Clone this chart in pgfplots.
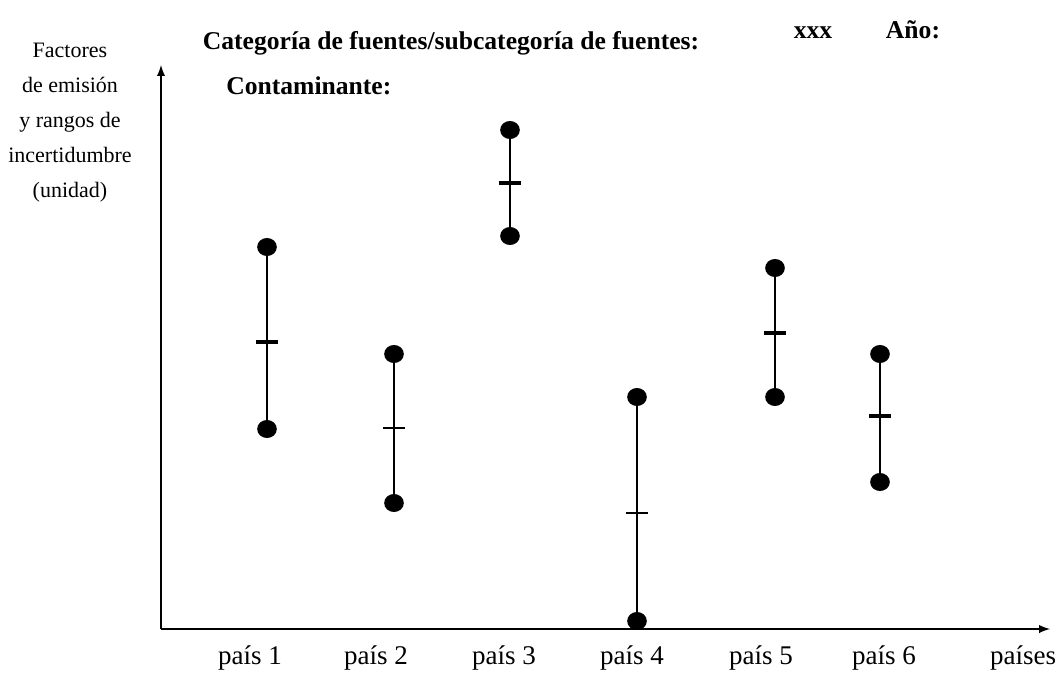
\documentclass[border=0pt]{standalone}
\usepackage{fontspec}
\setmainfont{Liberation Serif}
\usepackage{pgfplots}
\pgfplotsset{compat=1.18}
\begin{document}
\begin{tikzpicture}
\begin{axis}[
  x=0.5pt, y=0.5pt,
  xmin=0, xmax=889, ymin=0, ymax=564,
  axis lines=left,
  axis line style={line width=0.9pt, -latex},
  clip=false,
  ytick=\empty,
  xtick={89,215,343,471,600,723,862},
  xticklabels={\raisebox{-3pt}{país 1},país 2,país 3,país 4,país 5,país 6,países},
  major tick length=0pt,
  xticklabel style={font=\fontsize{13.5}{15}\selectfont, yshift=-5pt},
]
\addplot[black, line width=1pt, mark=*, mark size=4pt, mark options={xscale=1.1}] coordinates {(106,200) (106,382)};
\addplot[black, line width=1pt, mark=*, mark size=4pt, mark options={xscale=1.1}] coordinates {(233,126) (233,275)};
\addplot[black, line width=1pt, mark=*, mark size=4pt, mark options={xscale=1.1}] coordinates {(349,393) (349,499)};
\addplot[black, line width=1pt, mark=*, mark size=4pt, mark options={xscale=1.1}] coordinates {(476,8) (476,232)};
\addplot[black, line width=1pt, mark=*, mark size=4pt, mark options={xscale=1.1}] coordinates {(614,232) (614,361)};
\addplot[black, line width=1pt, mark=*, mark size=4pt, mark options={xscale=1.1}] coordinates {(719,147) (719,275)};
\addplot[black, only marks, mark=-, mark size=5.5pt, mark options={line width=2pt}] coordinates {(106,287) (349,446) (614,296) (719,213)};
\addplot[black, only marks, mark=-, mark size=5.5pt, mark options={line width=1.3pt}] coordinates {(233,201) (476,116)};
\node[font=\fontsize{12.8}{14}\selectfont\bfseries, anchor=base] at (axis cs:290,579) {Categoría de fuentes/subcategoría de fuentes:};
\node[font=\fontsize{12.8}{14}\selectfont\bfseries, anchor=base] at (axis cs:652,590) {xxx};
\node[font=\fontsize{12.8}{14}\selectfont\bfseries, anchor=base] at (axis cs:752,590) {Año:};
\node[font=\fontsize{12.8}{14}\selectfont\bfseries, anchor=base west, inner sep=0pt] at (axis cs:65,534) {Contaminante:};
\node[font=\fontsize{11}{17.5}\selectfont, align=center] at (axis cs:-91,506) {Factores\\de emisión\\y rangos de\\incertidumbre\\(unidad)};
\coordinate (bl) at (axis cs:-161,-51);
\coordinate (tr) at (axis cs:902,629);
\end{axis}
\pgfresetboundingbox
\path (bl) rectangle (tr);
\end{tikzpicture}
\end{document}
